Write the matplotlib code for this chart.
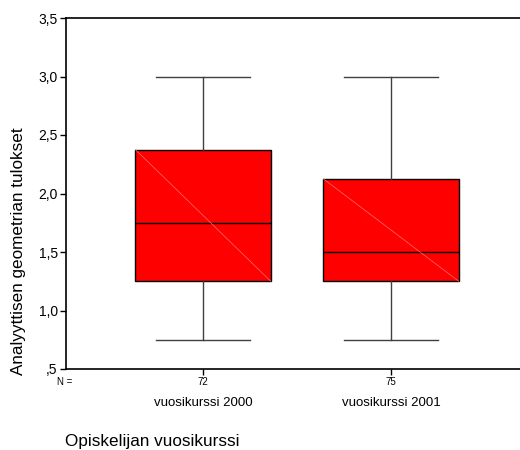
import matplotlib
matplotlib.use("Agg")
import matplotlib.pyplot as plt

plt.rcParams['font.family'] = ['Liberation Sans', 'DejaVu Sans']

# data
groups = ["vuosikurssi 2000", "vuosikurssi 2001"]
counts = [72, 75]
whislo = [0.75, 0.75]
q1 = [1.25, 1.25]
med = [1.75, 1.5]
q3 = [2.375, 2.125]
whishi = [3.0, 3.0]
yticks = [0.5, 1.0, 1.5, 2.0, 2.5, 3.0, 3.5]
ytick_labels = [",5", "1,0", "1,5", "2,0", "2,5", "3,0", "3,5"]

stats = []
for i in range(len(groups)):
    stats.append(dict(whislo=whislo[i], q1=q1[i], med=med[i], q3=q3[i],
                      whishi=whishi[i], fliers=[]))

fig = plt.figure(figsize=(5.2, 4.5), dpi=100)
ax = fig.add_axes([0.127, 0.18, 0.873, 0.78])

pos = [1, 2]
ax.bxp(stats, positions=pos, widths=0.72, showfliers=False, patch_artist=True,
       boxprops=dict(facecolor="#ff0000", edgecolor="black", linewidth=1.0),
       medianprops=dict(color="black", linewidth=1.0),
       whiskerprops=dict(color="#404040", linewidth=1.0),
       capprops=dict(color="#404040", linewidth=1.0),
       capwidths=0.5)

# faint diagonal inside each box
for i, p in enumerate(pos):
    ax.plot([p - 0.36, p + 0.36], [q3[i], q1[i]], color="#ff7070", lw=0.5, zorder=3)

ax.set_xlim(0.271, 2.686)
ax.set_ylim(0.5, 3.5)
ax.set_yticks(yticks)
ax.set_yticklabels(ytick_labels, fontsize=10)
ax.set_xticks(pos)
ax.set_xticklabels([str(c) for c in counts], fontsize=7)
ax.tick_params(axis="both", direction="out", length=4, width=1, pad=2)
ax.spines["right"].set_visible(False)
for s in ["left", "bottom", "top"]:
    ax.spines[s].set_linewidth(1.2)

fig.text(0.125, 0.152, "N =", fontsize=7, ha="center", va="center")
for i, p in enumerate(pos):
    xd = ax.transData.transform((p, 0))[0] / fig.bbox.width
    fig.text(xd, 0.105, groups[i], fontsize=9.5, ha="center", va="center")

fig.text(0.035, 0.442, "Analyyttisen geometrian tulokset", fontsize=12.3,
         rotation=90, ha="center", va="center")
fig.text(0.125, 0.018, "Opiskelijan vuosikurssi", fontsize=12.3, ha="left", va="center")

fig.savefig("out.png", dpi=100)
